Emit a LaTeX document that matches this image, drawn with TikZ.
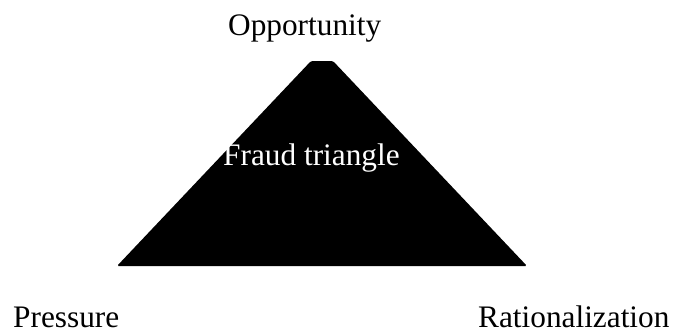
\documentclass[tikz,border=0pt]{standalone}
\usepackage{fontspec}
\setmainfont{Liberation Serif}
\begin{document}
\begin{tikzpicture}[x=1pt,y=-1pt,
  lbl/.style={inner sep=0pt,anchor=base west,font=\fontsize{31.3}{36}\selectfont}]
\useasboundingbox (0,0) rectangle (673,330);
\fill[black,rounded corners=1.5pt] (311,61) -- (333,61) -- (527,266) -- (117,266) -- cycle;
\node[lbl,text=white] (ft) at (223,165) {Fraud triangle};
\node[lbl] (op) at (228,35) {Opportunity};
\node[lbl] (pr) at (13,327) {Pressure};
\node[lbl] (ra) at (478,327) {Rationalization};
\end{tikzpicture}
\end{document}
